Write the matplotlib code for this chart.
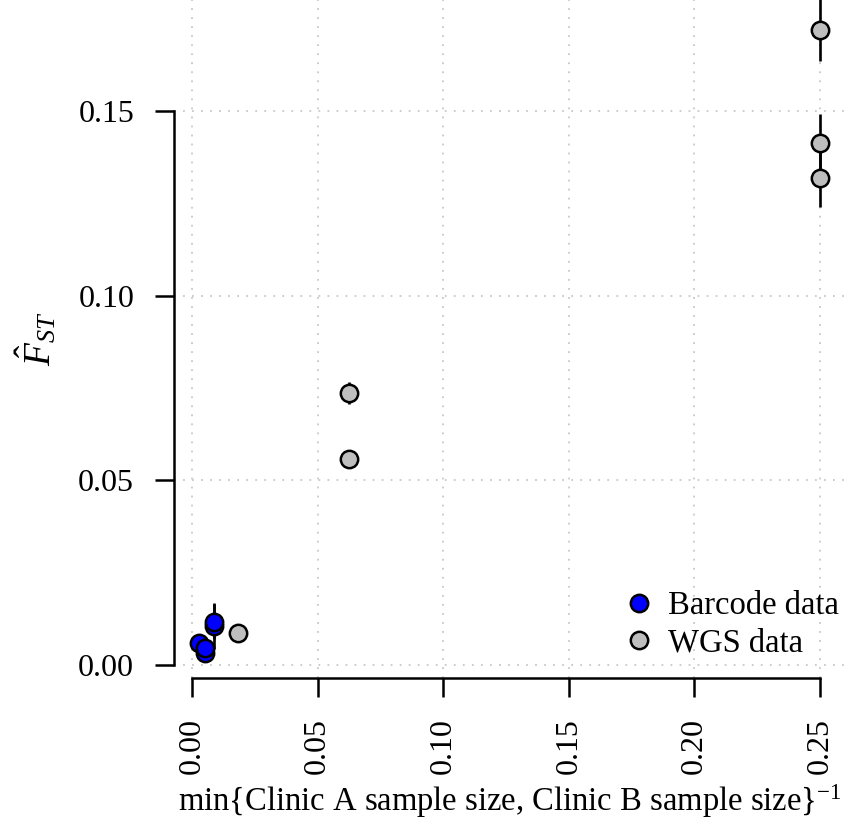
import matplotlib
matplotlib.use('Agg')
import matplotlib.pyplot as plt
from matplotlib.lines import Line2D

plt.rcParams['font.family'] = ['Liberation Serif', 'DejaVu Serif']
plt.rcParams['mathtext.fontset'] = 'custom'
plt.rcParams['mathtext.rm'] = 'Liberation Serif'
plt.rcParams['mathtext.it'] = 'Liberation Serif:italic'

# barcode comparisons: 1 / min sample size, Fst estimate, standard error
bc_x = [0.0029, 0.0052, 0.0052, 0.0089, 0.0089]
bc_fst = [0.0060, 0.0032, 0.0045, 0.0105, 0.0118]
bc_se = [0.0004, 0.0004, 0.0004, 0.0062, 0.0047]

# whole genome comparisons
wgs_x = [0.0183, 0.0625, 0.0625, 0.25, 0.25, 0.25]
wgs_fst = [0.0087, 0.0558, 0.0737, 0.1319, 0.1413, 0.1720]
wgs_se = [0.0010, 0.0025, 0.0030, 0.0078, 0.0080, 0.0083]

xticks = [0.00, 0.05, 0.10, 0.15, 0.20, 0.25]
yticks = [0.00, 0.05, 0.10, 0.15]

W, H = 849, 824
fig = plt.figure(figsize=(W / 100, H / 100), dpi=100)
left, right, top, bottom = 174, 845, 0, 678
ax = fig.add_axes([left / W, 1 - bottom / H, (right - left) / W, (bottom - top) / H])

ax.set_xlim(-0.00717, 0.25995)
ax.set_ylim(-0.0035, 0.1801)

for v in xticks:
    ax.axvline(v, color='#C8C8C8', lw=1.3, ls=(0, (1, 4)), zorder=0)
for v in yticks:
    ax.axhline(v, color='#C8C8C8', lw=1.3, ls=(0, (1, 4)), zorder=0)

mk = dict(marker='o', ls='none', ms=12.5, mec='black', mew=1.8)
ax.errorbar(bc_x, bc_fst, yerr=bc_se, fmt='none', ecolor='black', elinewidth=1.9, capsize=0, zorder=2)
ax.errorbar(wgs_x, wgs_fst, yerr=wgs_se, fmt='none', ecolor='black', elinewidth=1.9, capsize=0, zorder=2)
ax.plot(bc_x, bc_fst, mfc='#0000FF', zorder=3, **mk)
ax.plot(wgs_x, wgs_fst, mfc='#BEBEBE', zorder=3, **mk)

for s in ['top', 'right']:
    ax.spines[s].set_visible(False)
ax.spines['left'].set_bounds(0, 0.15)
ax.spines['bottom'].set_bounds(0, 0.25)
ax.spines['left'].set_linewidth(1.8)
ax.spines['bottom'].set_linewidth(1.8)

ax.set_xticks(xticks)
ax.set_xticklabels(['%.2f' % v for v in xticks], rotation=90)
ax.set_yticks(yticks)
ax.set_yticklabels(['%.2f' % v for v in yticks])
ax.tick_params(axis='both', direction='out', length=13.7, width=1.8, labelsize=23)
ax.tick_params(axis='y', pad=15)
ax.tick_params(axis='x', pad=15)

ax.set_xlabel('min{Clinic A sample size, Clinic B sample size}$^{-1}$', fontsize=23.5, labelpad=6)
ax.set_ylabel(r'$\hat{F}_{ST}$', fontsize=27, labelpad=14)

handles = [Line2D([], [], mfc='#0000FF', **mk), Line2D([], [], mfc='#BEBEBE', **mk)]
ax.legend(handles, ['Barcode data', 'WGS data'], loc='lower right', frameon=False,
          fontsize=23.5, handlelength=0.8, handletextpad=0.5, labelspacing=0.2,
          borderaxespad=0.5, bbox_to_anchor=(1.035, -0.014))

fig.savefig('out.png', dpi=100)
